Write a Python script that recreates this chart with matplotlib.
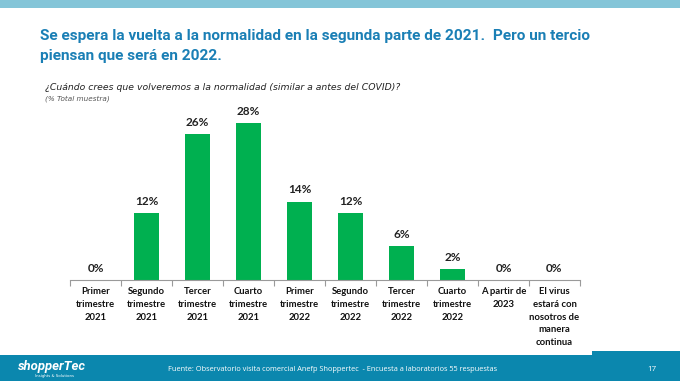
import matplotlib
matplotlib.use('Agg')
import matplotlib.pyplot as plt
from matplotlib.patches import Rectangle

W, H = 680, 381

categories = [
    'Primer\ntrimestre\n2021', 'Segundo\ntrimestre\n2021', 'Tercer\ntrimestre\n2021',
    'Cuarto\ntrimestre\n2021', 'Primer\ntrimestre\n2022', 'Segundo\ntrimestre\n2022',
    'Tercer\ntrimestre\n2022', 'Cuarto\ntrimestre\n2022', 'A partir de\n2023',
    'El virus\nestará con\nnosotros de\nmanera\ncontinua',
]
values = [0, 12, 26, 28, 14, 12, 6, 2, 0, 0]

title_lines = ['Se espera la vuelta a la normalidad en la segunda parte de 2021.  Pero un tercio',
               'piensan que será en 2022.']
question = '¿Cuándo crees que volveremos a la normalidad (similar a antes del COVID)?'
base_note = '(% Total muestra)'
source = ('Fuente: Observatorio visita comercial Anefp Shoppertec  - '
          'Encuesta a laboratorios 55 respuestas')
page = '17'

GREEN = '#00b050'
TITLE_BLUE = '#1a7fb5'
TOP_BAR = '#84c5d8'
FOOTER = '#0b87ae'


def px(x, y):
    return x / W, 1 - y / H


fig = plt.figure(figsize=(W / 100, H / 100), dpi=100)
fig.patch.set_facecolor('white')
renderer = fig.canvas.get_renderer()


def fit_width(txt, width_px):
    # shrink the font until the text is as wide as in the reference
    for _ in range(3):
        w = txt.get_window_extent(renderer).width
        txt.set_fontsize(txt.get_fontsize() * width_px / w)


# top band and footer
fig.add_artist(Rectangle(px(0, 8), 1, 8 / H, transform=fig.transFigure,
                         color=TOP_BAR, lw=0))
fig.add_artist(Rectangle(px(0, 381), 1, 26 / H, transform=fig.transFigure,
                         color=FOOTER, lw=0))
fig.add_artist(Rectangle(px(592, 355), 88 / W, 4 / H, transform=fig.transFigure,
                         color=FOOTER, lw=0))

t1 = fig.text(*px(40, 40), title_lines[0], color=TITLE_BLUE, fontsize=12,
              fontweight='bold', fontstretch='condensed', family='Roboto',
              va='baseline')
fit_width(t1, 548)
fig.text(*px(40, 60), title_lines[1], color=TITLE_BLUE, fontsize=t1.get_fontsize(),
         fontweight='bold', fontstretch='condensed', family='Roboto', va='baseline')

q = fig.text(*px(45, 90), question, fontsize=7.0, style='italic', color='#222222',
             family='DejaVu Sans', va='baseline')
fit_width(q, 353)
fig.text(*px(45, 101), base_note, fontsize=5.2, style='italic', color='#555555',
         family='DejaVu Sans', va='baseline')

# chart
ax = fig.add_axes([70 / W, (H - 280) / H, 510 / W, 168 / H])
x = list(range(len(values)))
ax.bar(x, values, width=0.49, color=GREEN, zorder=2)
ax.set_xlim(-0.5, len(values) - 0.5)
ax.set_ylim(0, 30)
for xi, v in zip(x, values):
    ax.annotate(f'{v}%', (xi, v), xytext=(0, 4.5), textcoords='offset points',
                ha='center', va='bottom', fontsize=8.5, fontweight='bold',
                family='Lato', color='#222222')
for s in ('top', 'right', 'left'):
    ax.spines[s].set_visible(False)
ax.spines['bottom'].set_color('#9a9a9a')
ax.spines['bottom'].set_linewidth(0.8)
ax.set_yticks([])
ax.set_xticks(x)
ax.set_xticklabels(categories, fontsize=6.8, fontweight='bold', family='Lato',
                   linespacing=1.55, color='#111111')
ax.tick_params(axis='x', which='major', length=0, pad=5)
ax.set_xticks([i - 0.5 for i in range(len(values) + 1)], minor=True)
ax.tick_params(axis='x', which='minor', length=4, color='#9a9a9a', width=0.8)
ax.patch.set_alpha(0)

# footer text
logo = fig.text(*px(18, 370), 'shopperTec', color='white', fontsize=10,
                fontweight='bold', style='italic', fontstretch='condensed',
                family='Roboto', va='baseline')
fit_width(logo, 68)
fig.text(*px(35, 377), 'Insights & Solutions', color='white', fontsize=2.8,
         family='DejaVu Sans', va='baseline')
src = fig.text(*px(168, 371), source, color='white', fontsize=5.8,
               family='Open Sans', va='baseline')
fit_width(src, 332)
fig.text(*px(652, 371), page, color='white', fontsize=5.8, family='Open Sans',
         va='baseline', ha='center')

fig.savefig('out.png', dpi=100)
